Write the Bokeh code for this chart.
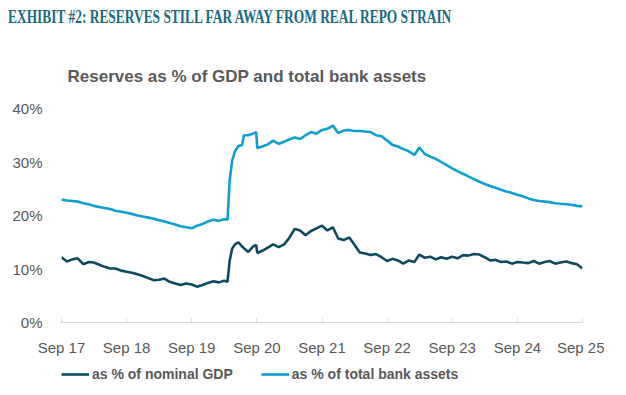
import pandas as pd
from bokeh.plotting import figure
from bokeh.layouts import column
from bokeh.models import (Title, Legend, LegendItem, FixedTicker, DatetimeTickFormatter,
                          NumeralTickFormatter, Range1d, ColumnDataSource, Div)
from bokeh.embed import file_html
from bokeh.resources import INLINE

# ---- data ----
dates = [
    "2017-09-01", "2017-10-01", "2017-11-01", "2017-12-01",
    "2018-01-01", "2018-02-01", "2018-03-01", "2018-04-01", "2018-05-01", "2018-06-01",
    "2018-07-01", "2018-08-01", "2018-09-01", "2018-10-01", "2018-11-01", "2018-12-01",
    "2019-01-01", "2019-02-01", "2019-03-01", "2019-04-01", "2019-05-01", "2019-06-01",
    "2019-07-01", "2019-08-01", "2019-09-01", "2019-10-01", "2019-11-01", "2019-12-01",
    "2020-01-01", "2020-02-01", "2020-03-01", "2020-03-20", "2020-04-01", "2020-04-15",
    "2020-05-01", "2020-05-20", "2020-06-10", "2020-06-20", "2020-07-15", "2020-08-10",
    "2020-08-28", "2020-09-03", "2020-10-01", "2020-11-01", "2020-12-01",
    "2021-01-01", "2021-02-01", "2021-03-01", "2021-04-01", "2021-05-01", "2021-06-01",
    "2021-07-01", "2021-08-01", "2021-09-01", "2021-10-01", "2021-11-01", "2021-12-01",
    "2022-01-01", "2022-02-01", "2022-03-01", "2022-04-01", "2022-05-01", "2022-06-01",
    "2022-07-01", "2022-08-01", "2022-09-01", "2022-10-01", "2022-11-01", "2022-12-01",
    "2023-01-01", "2023-02-01", "2023-03-01", "2023-04-01", "2023-05-01", "2023-06-01",
    "2023-07-01", "2023-08-01", "2023-09-01", "2023-10-01", "2023-11-01", "2023-12-01",
    "2024-01-01", "2024-02-01", "2024-03-01", "2024-04-01", "2024-05-01", "2024-06-01",
    "2024-07-01", "2024-08-01", "2024-09-01", "2024-10-01", "2024-11-01", "2024-12-01",
    "2025-01-01", "2025-02-01", "2025-03-01", "2025-04-01", "2025-05-01", "2025-06-01",
    "2025-07-01", "2025-08-01", "2025-09-01",
]

pct_gdp = [
    12.2, 11.4, 11.8, 12.0,
    10.9, 11.3, 11.2, 10.8, 10.4, 10.1,
    10.1, 9.7, 9.5, 9.3, 9.0, 8.7,
    8.3, 7.9, 8.0, 8.2, 7.6, 7.3,
    7.0, 7.3, 7.1, 6.7, 7.0, 7.4,
    7.7, 7.5, 7.8, 7.6, 11.5, 13.8,
    14.6, 15.0, 14.2, 13.9, 13.2, 14.2,
    14.5, 13.0, 13.4, 14.0, 14.6,
    14.1, 14.6, 15.8, 17.5, 17.2, 16.3,
    17.1, 17.6, 18.1, 17.2, 17.8, 15.7,
    15.4, 15.9, 14.6, 13.1, 12.9, 12.6,
    12.8, 12.2, 11.5, 11.9, 11.6, 11.0,
    11.6, 11.3, 12.7, 12.1, 12.3, 11.8,
    12.2, 11.9, 12.3, 12.0, 12.6, 12.5,
    12.8, 12.7, 12.2, 11.6, 11.7, 11.3,
    11.4, 11.0, 11.3, 11.2, 11.1, 11.5,
    11.0, 11.3, 11.5, 11.0, 11.2, 11.4,
    11.1, 10.9, 10.1,
]

pct_bank_assets = [
    23.0, 22.8, 22.7, 22.6,
    22.3, 22.1, 21.8, 21.6, 21.4, 21.2,
    20.9, 20.7, 20.5, 20.3, 20.0, 19.8,
    19.6, 19.4, 19.1, 18.9, 18.6, 18.3,
    18.0, 17.8, 17.6, 18.1, 18.4, 18.9,
    19.2, 19.0, 19.3, 19.2, 26.5, 30.2,
    32.0, 33.0, 33.2, 35.0, 35.0, 35.3,
    35.6, 32.6, 32.9, 33.3, 34.0,
    33.4, 33.8, 34.2, 34.6, 34.3, 35.0,
    35.6, 35.3, 36.0, 36.2, 36.8, 35.4,
    35.9, 36.0, 35.8, 35.8, 35.7, 35.6,
    35.0, 34.8, 34.0, 33.2, 32.9, 32.4,
    32.0, 31.3, 32.7, 31.5, 31.0, 30.6,
    30.0, 29.4, 28.8, 28.3, 27.8, 27.3,
    26.8, 26.3, 25.9, 25.5, 25.2, 24.8,
    24.5, 24.2, 23.9, 23.6, 23.2, 22.9,
    22.7, 22.6, 22.5, 22.3, 22.2, 22.1,
    22.0, 21.8, 21.7,
]

tick_dates = ["2017-09-01", "2018-09-01", "2019-09-01", "2020-09-01", "2021-09-01",
              "2022-09-01", "2023-09-01", "2024-09-01", "2025-09-01"]
y_ticks = [0, 10, 20, 30, 40]

series_names = ["as % of nominal GDP", "as % of total bank assets"]
series_colors = ["#0b4a60", "#0e9fd2"]
exhibit_title = "EXHIBIT #2: RESERVES STILL FAR AWAY FROM REAL REPO STRAIN"
chart_title = "Reserves as % of GDP and total bank assets"

# ---- build ----
x = pd.to_datetime(dates)
src = ColumnDataSource(dict(x=x, gdp=pct_gdp, assets=pct_bank_assets))
tick_ms = [pd.Timestamp(t).value // 10**6 for t in tick_dates]

p = figure(frame_width=521, frame_height=214, x_axis_type="datetime",
           output_backend="svg", toolbar_location=None,
           x_range=Range1d(x[0], x[-1]), y_range=Range1d(0, 40),
           min_border_left=61, min_border_right=22, min_border_top=0,
           min_border_bottom=0, background_fill_color="white",
           border_fill_color="white", outline_line_color=None)

r1 = p.line("x", "gdp", source=src, line_color=series_colors[0], line_width=2.6)
r2 = p.line("x", "assets", source=src, line_color=series_colors[1], line_width=2.6)

p.xgrid.visible = False
p.ygrid.visible = False

p.xaxis.ticker = FixedTicker(ticks=tick_ms)
p.xaxis.formatter = DatetimeTickFormatter(years="%b %y", months="%b %y", days="%b %y",
                                          hours="%b %y")
p.xaxis.axis_line_color = "#d9d9d9"
p.xaxis.major_tick_line_color = "#d9d9d9"
p.xaxis.major_tick_in = 4
p.xaxis.major_tick_out = 0
p.xaxis.minor_tick_line_color = None
p.xaxis.major_label_standoff = 16
p.xaxis.major_label_text_font = "Liberation Sans"
p.xaxis.major_label_text_font_size = "15px"
p.xaxis.major_label_text_color = "#595959"

p.yaxis.ticker = FixedTicker(ticks=y_ticks)
p.yaxis.formatter = NumeralTickFormatter(format="0")
p.yaxis.major_label_overrides = {v: f"{v}%" for v in y_ticks}
p.yaxis.axis_line_color = None
p.yaxis.major_tick_line_color = None
p.yaxis.minor_tick_line_color = None
p.yaxis.major_label_standoff = 13
p.yaxis.major_label_text_font = "Liberation Sans"
p.yaxis.major_label_text_font_size = "15px"
p.yaxis.major_label_text_color = "#595959"

p.title = Title(text=chart_title, align="left", offset=6,
                text_font="Liberation Sans", text_font_style="bold",
                text_font_size="17px", text_color="#595959", standoff=45)

# legend strip: a small companion figure whose legend uses proxy lines that
# sit outside its visible range (only their legend samples are seen)
lg = figure(frame_width=521, frame_height=32, output_backend="svg",
            toolbar_location=None, x_axis_location=None, y_axis_location=None,
            x_range=Range1d(0, 1), y_range=Range1d(0, 1),
            min_border_left=61, min_border_right=22, min_border_top=0,
            min_border_bottom=0, background_fill_color="white",
            border_fill_color="white", outline_line_color=None)
lg.xgrid.visible = False
lg.ygrid.visible = False
proxy_src = ColumnDataSource(dict(x=[-5, -4], y=[-5, -5]))
pr1 = lg.line("x", "y", source=proxy_src, line_color=series_colors[0], line_width=2.6)
pr2 = lg.line("x", "y", source=proxy_src, line_color=series_colors[1], line_width=2.6)
legend = Legend(items=[LegendItem(label=series_names[0], renderers=[pr1]),
                       LegendItem(label=series_names[1], renderers=[pr2])],
                orientation="horizontal", location="top_left",
                label_text_font="Liberation Sans", label_text_font_style="bold",
                label_text_font_size="14px", label_text_color="#595959",
                glyph_width=28, glyph_height=32, label_height=32,
                label_standoff=3, spacing=28,
                border_line_color=None, background_fill_alpha=0,
                margin=0, padding=0)
lg.add_layout(legend, "center")

header = Div(text=(
    '<div style="font-family:\'Liberation Serif\';font-weight:bold;font-size:18px;'
    'color:#1a6a80;white-space:nowrap;transform:scaleX(0.745);transform-origin:left top;'
    'line-height:20px;margin:2px 0 0 3px;padding:0;">' + exhibit_title + '</div>'),
    width=604, height=32)

layout = column(header, p, lg, spacing=0)
open("out.html", "w").write(file_html(layout, INLINE))
